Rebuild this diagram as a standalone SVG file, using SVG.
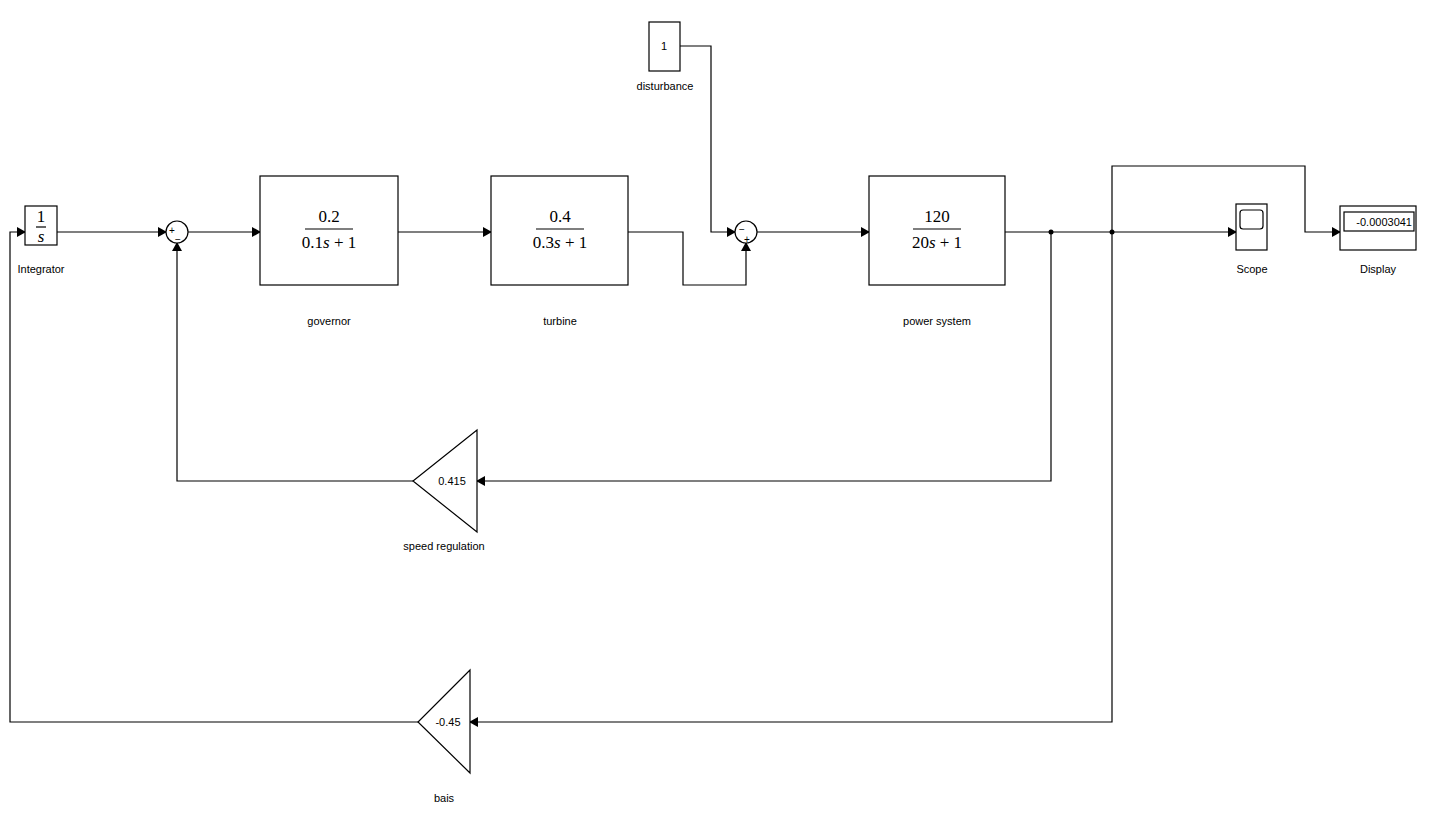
<svg xmlns="http://www.w3.org/2000/svg" width="1441" height="821" viewBox="0 0 1441 821">
<style>
.b{fill:#fff;stroke:#000;stroke-width:1.2}
.l{fill:none;stroke:#000;stroke-width:1.2}
.t{font-family:"Liberation Sans",Arial,sans-serif;font-size:11px;text-anchor:middle}
.m{font-family:"Liberation Serif","Times New Roman",serif;font-size:17px;text-anchor:middle}
.s{font-family:"Liberation Sans",Arial,sans-serif;font-size:10px}
</style>
<defs><marker id="a" markerWidth="10" markerHeight="10" refX="8" refY="5" orient="auto" markerUnits="userSpaceOnUse"><path d="M0,0 L9,5 L0,10 Z"/></marker></defs>
<rect width="1441" height="821" fill="#fff"/>
<g id="connectors">
<path class="l" d="M57,232 H166" marker-end="url(#a)"/>
<path class="l" d="M188,232 H260" marker-end="url(#a)"/>
<path class="l" d="M398,232 H491" marker-end="url(#a)"/>
<path class="l" d="M628,232 H683 V285 H746 V243" marker-end="url(#a)"/>
<path class="l" d="M680,46 H711 V232 H735" marker-end="url(#a)"/>
<path class="l" d="M757,232 H869" marker-end="url(#a)"/>
<path class="l" d="M1005,232 H1236" marker-end="url(#a)"/>
<path class="l" d="M1112,232 V166 H1305 V232 H1340" marker-end="url(#a)"/>
<path class="l" d="M1051,232 V481 H477" marker-end="url(#a)"/>
<path class="l" d="M413,481 H177 V243" marker-end="url(#a)"/>
<path class="l" d="M1112,232 V722 H470" marker-end="url(#a)"/>
<path class="l" d="M418,722 H10 V232 H25" marker-end="url(#a)"/>
<circle cx="1051" cy="232" r="2.5"/><circle cx="1112" cy="232" r="2.5"/>
</g>
<g id="integrator"><rect class="b" x="25" y="206" width="32" height="39"/>
<text class="m" x="41" y="222" font-size="14">1</text><line class="l" x1="36" y1="227" x2="46" y2="227" stroke-width="0.8"/><text class="m" x="41" y="242" font-size="14" font-style="italic">s</text>
<text class="t" x="41" y="273">Integrator</text></g>
<g id="sum1"><circle class="b" cx="177" cy="232" r="11"/><text class="s" x="169" y="234">+</text><text class="s" x="175" y="243">−</text></g>
<g id="governor"><rect class="b" x="260" y="176" width="138" height="109"/>
<text class="m" x="329" y="222">0.2</text><line class="l" x1="305" y1="229" x2="353" y2="229"/><text class="m" x="329" y="248">0.1<tspan font-style="italic">s</tspan> + 1</text>
<text class="t" x="329" y="325">governor</text></g>
<g id="turbine"><rect class="b" x="491" y="176" width="137" height="109"/>
<text class="m" x="560" y="222">0.4</text><line class="l" x1="536" y1="229" x2="584" y2="229"/><text class="m" x="560" y="248">0.3<tspan font-style="italic">s</tspan> + 1</text>
<text class="t" x="560" y="325">turbine</text></g>
<g id="disturbance"><rect class="b" x="649" y="22" width="31" height="49"/><text class="t" x="664" y="50">1</text><text class="t" x="665" y="90">disturbance</text></g>
<g id="sum2"><circle class="b" cx="746" cy="232" r="11"/><text class="s" x="739" y="233">−</text><text class="s" x="744" y="243">+</text></g>
<g id="power-system"><rect class="b" x="869" y="176" width="136" height="109"/>
<text class="m" x="937" y="222">120</text><line class="l" x1="913" y1="229" x2="961" y2="229"/><text class="m" x="937" y="248">20<tspan font-style="italic">s</tspan> + 1</text>
<text class="t" x="937" y="325">power system</text></g>
<g id="scope"><rect class="b" x="1236" y="204" width="31" height="46"/><rect class="b" x="1240" y="210" width="23" height="19" rx="3"/><text class="t" x="1252" y="273">Scope</text></g>
<g id="display"><rect class="b" x="1340" y="206" width="76" height="44"/><rect class="b" x="1344" y="212" width="70" height="19"/><text class="t" style="text-anchor:end" x="1412" y="226">-0.0003041</text><text class="t" x="1378" y="273">Display</text></g>
<g id="speed-regulation"><path class="b" d="M477,430 L477,532 L413,481 Z"/><text class="t" x="452" y="485">0.415</text><text class="t" x="444" y="550">speed regulation</text></g>
<g id="bais"><path class="b" d="M470,670 L470,773 L418,722 Z"/><text class="t" x="448" y="726">-0.45</text><text class="t" x="444" y="802">bais</text></g>
</svg>
